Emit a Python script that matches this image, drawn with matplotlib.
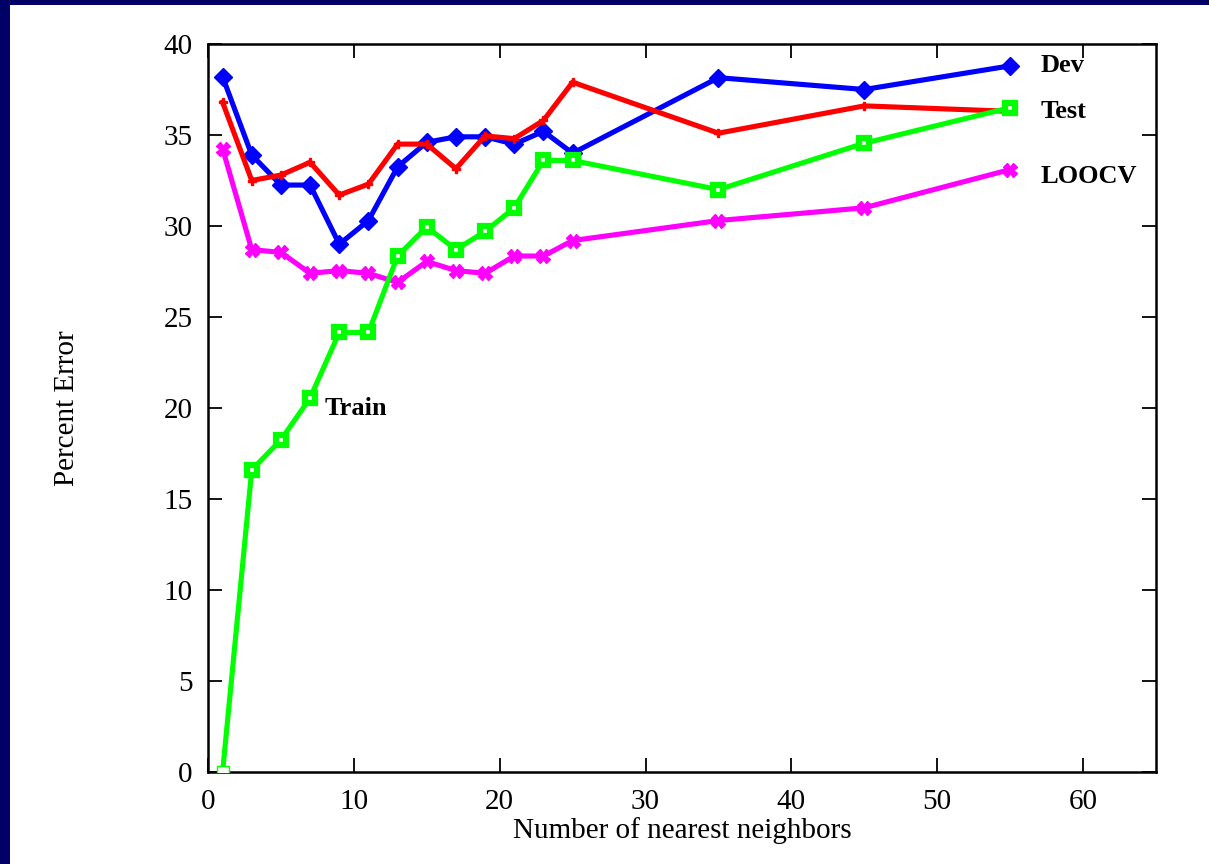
import matplotlib
matplotlib.use("Agg")
import matplotlib.pyplot as plt
from matplotlib.patches import Rectangle

k = [1, 3, 5, 7, 9, 11, 13, 15, 17, 19, 21, 23, 25, 35, 45, 55]
dev = [38.2, 33.9, 32.25, 32.25, 29.0, 30.3, 33.25, 34.6, 34.9, 34.9, 34.5, 35.2, 34.0, 38.15, 37.5, 38.8]
test = [36.8, 32.5, 32.8, 33.5, 31.7, 32.3, 34.5, 34.5, 33.15, 34.95, 34.8, 35.8, 37.9, 35.1, 36.6, 36.3]
train = [0.0, 16.6, 18.25, 20.55, 24.15, 24.15, 28.35, 29.95, 28.7, 29.7, 31.0, 33.6, 33.6, 32.0, 34.55, 36.5]
loocv = [34.25, 28.7, 28.55, 27.4, 27.55, 27.4, 26.9, 28.05, 27.55, 27.4, 28.35, 28.35, 29.2, 30.3, 31.0, 33.1]

xticks = [0, 10, 20, 30, 40, 50, 60]
yticks = [0, 5, 10, 15, 20, 25, 30, 35, 40]

plt.rcParams['font.family'] = ['Liberation Serif', 'DejaVu Serif']

fig = plt.figure(figsize=(12.09, 8.64), dpi=100)
fig.patch.set_facecolor('#000066')
bg = Rectangle((10 / 1209, 0), 1 - 10 / 1209, 1 - 5 / 864,
               transform=fig.transFigure, facecolor='white',
               edgecolor='none', zorder=-10)
fig.patches.append(bg)

ax = fig.add_axes([208 / 1209, (864 - 772) / 864, (1156 - 208) / 1209, (772 - 44) / 864])
ax.set_zorder(1)
ax.set_xlim(0, 65)
ax.set_ylim(0, 40)

lw = 3.7
ax.plot(k, dev, color='#0000ff', lw=lw, marker='D', ms=9, mec='#0000ff', mfc='#0000ff', zorder=3)
ax.plot(k, test, color='#ff0000', lw=lw, marker='P', ms=6, mec='#ff0000', mfc='#ff0000', zorder=4)
ax.plot(k, train, color='#00ff00', lw=lw, marker='s', ms=7, mec='#00ff00', mfc='white',
        mew=4.5, markevery=list(range(1, len(k))), zorder=5)
ax.plot(k[:1], train[:1], ls='none', marker='s', ms=8, mec='#00ff00', mfc='white', mew=1, zorder=6)
ax.plot(k, loocv, color='#ff00ff', lw=lw, marker='X', ms=10, mec='#ff00ff', mfc='#ff00ff', zorder=3)

fs = 21
ax.text(57.1, 38.8, 'Dev', fontsize=19, fontweight='bold', va='center', ha='left')
ax.text(57.1, 36.3, 'Test', fontsize=19, fontweight='bold', va='center', ha='left')
ax.text(57.1, 32.7, 'LOOCV', fontsize=19, fontweight='bold', va='center', ha='left')
ax.text(8.0, 19.95, 'Train', fontsize=19, fontweight='bold', va='center', ha='left')

ax.set_xticks(xticks)
ax.set_yticks(yticks)
ax.tick_params(direction='in', length=10, width=1.3, top=True, right=True, labelsize=fs)
ax.tick_params(axis='x', pad=12)
ax.tick_params(axis='y', pad=11)
for s in ax.spines.values():
    s.set_linewidth(1.8)

ax.set_xlabel('Number of nearest neighbors', fontsize=21, labelpad=2)
ax.set_ylabel('Percent Error', fontsize=21, labelpad=60)

fig.savefig('out.png', dpi=100, facecolor=fig.get_facecolor())
